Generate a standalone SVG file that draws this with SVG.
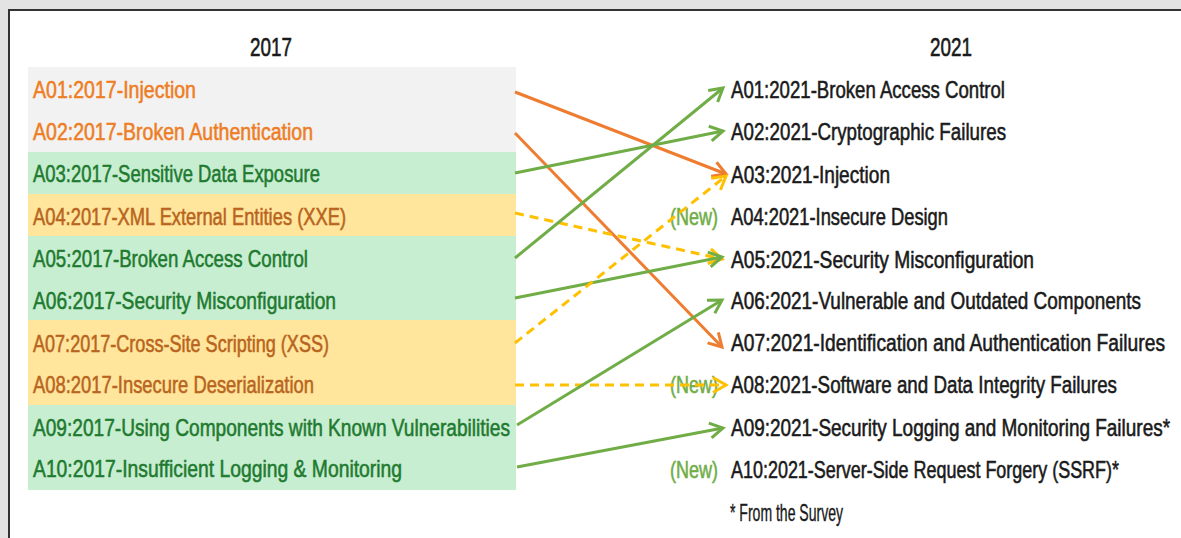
<svg xmlns="http://www.w3.org/2000/svg" width="1181" height="538" viewBox="0 0 1181 538">
<style>
.t{font-family:"Liberation Sans",Arial,sans-serif;font-size:19px;stroke-width:0.45px}
.or{fill:#ee7d24;stroke:#ee7d24}
.gr{fill:#1f7a30;stroke:#1f7a30}
.br{fill:#b9641e;stroke:#b9641e}
.bk{fill:#1a1a1a;stroke:#1a1a1a}
.nw{fill:#70ad47;stroke:#70ad47}
.c{fill:none;stroke-width:3}
.co{stroke:#ee7d31}
.cg{stroke:#70ad47}
.cy{stroke:#ffc000;stroke-dasharray:9 6}
</style>
<defs>
<marker id="mo" viewBox="0 0 20 20" refX="15" refY="10" markerWidth="20" markerHeight="20" markerUnits="userSpaceOnUse" orient="auto" overflow="visible"><path d="M2,2.5 L15,10 L2,17.5" fill="none" stroke="#ee7d31" stroke-width="3"/></marker>
<marker id="mg" viewBox="0 0 20 20" refX="15" refY="10" markerWidth="20" markerHeight="20" markerUnits="userSpaceOnUse" orient="auto" overflow="visible"><path d="M2,2.5 L15,10 L2,17.5" fill="none" stroke="#70ad47" stroke-width="3"/></marker>
<marker id="my" viewBox="0 0 20 20" refX="15" refY="10" markerWidth="20" markerHeight="20" markerUnits="userSpaceOnUse" orient="auto" overflow="visible"><path d="M2,2.5 L15,10 L2,17.5" fill="none" stroke="#ffc000" stroke-width="3"/></marker>
</defs>
<rect x="0" y="0" width="1181" height="538" fill="#e3e3e3"/>
<rect x="9" y="10" width="1200" height="600" fill="#ffffff" stroke="#333333" stroke-width="2"/>
<g id="backgrounds">
<rect x="28" y="67" width="488" height="85" fill="#f2f2f2"/>
<rect x="28" y="152" width="488" height="42" fill="#c8eed2"/>
<rect x="28" y="194" width="488" height="42" fill="#ffe69c"/>
<rect x="28" y="236" width="488" height="84" fill="#c8eed2"/>
<rect x="28" y="320" width="488" height="85" fill="#ffe69c"/>
<rect x="28" y="405" width="488" height="85" fill="#c8eed2"/>
</g>
<g id="headers">
<text class="t bk" transform="translate(250,56) scale(1,1.4)" font-size="20" textLength="42" lengthAdjust="spacingAndGlyphs">2017</text>
<text class="t bk" transform="translate(930,56) scale(1,1.4)" font-size="20" textLength="42" lengthAdjust="spacingAndGlyphs">2021</text>
</g>
<g id="n2017-a01"><text class="t or" transform="translate(33,98) scale(1,1.27)" textLength="163" lengthAdjust="spacingAndGlyphs">A01:2017-Injection</text></g>
<g id="n2017-a02"><text class="t or" transform="translate(33,140) scale(1,1.27)" textLength="280" lengthAdjust="spacingAndGlyphs">A02:2017-Broken Authentication</text></g>
<g id="n2017-a03"><text class="t gr" transform="translate(33,182) scale(1,1.27)" textLength="287" lengthAdjust="spacingAndGlyphs">A03:2017-Sensitive Data Exposure</text></g>
<g id="n2017-a04"><text class="t br" transform="translate(33,225) scale(1,1.27)" textLength="313" lengthAdjust="spacingAndGlyphs">A04:2017-XML External Entities (XXE)</text></g>
<g id="n2017-a05"><text class="t gr" transform="translate(33,267) scale(1,1.27)" textLength="275" lengthAdjust="spacingAndGlyphs">A05:2017-Broken Access Control</text></g>
<g id="n2017-a06"><text class="t gr" transform="translate(33,309) scale(1,1.27)" textLength="303" lengthAdjust="spacingAndGlyphs">A06:2017-Security Misconfiguration</text></g>
<g id="n2017-a07"><text class="t br" transform="translate(33,352) scale(1,1.27)" textLength="296" lengthAdjust="spacingAndGlyphs">A07:2017-Cross-Site Scripting (XSS)</text></g>
<g id="n2017-a08"><text class="t br" transform="translate(33,393) scale(1,1.27)" textLength="281" lengthAdjust="spacingAndGlyphs">A08:2017-Insecure Deserialization</text></g>
<g id="n2017-a09"><text class="t gr" transform="translate(33,436) scale(1,1.27)" textLength="477" lengthAdjust="spacingAndGlyphs">A09:2017-Using Components with Known Vulnerabilities</text></g>
<g id="n2017-a10"><text class="t gr" transform="translate(33,477) scale(1,1.27)" textLength="369" lengthAdjust="spacingAndGlyphs">A10:2017-Insufficient Logging &amp; Monitoring</text></g>
<g id="n2021-a01"><text class="t bk" transform="translate(731,98) scale(1,1.27)" textLength="274" lengthAdjust="spacingAndGlyphs">A01:2021-Broken Access Control</text></g>
<g id="n2021-a02"><text class="t bk" transform="translate(731,140) scale(1,1.27)" textLength="275" lengthAdjust="spacingAndGlyphs">A02:2021-Cryptographic Failures</text></g>
<g id="n2021-a03"><text class="t bk" transform="translate(731,183) scale(1,1.27)" textLength="159" lengthAdjust="spacingAndGlyphs">A03:2021-Injection</text></g>
<g id="n2021-a04"><text class="t nw" transform="translate(670,225) scale(1,1.27)" textLength="48" lengthAdjust="spacingAndGlyphs">(New)</text><text class="t bk" transform="translate(731,225) scale(1,1.27)" textLength="217" lengthAdjust="spacingAndGlyphs">A04:2021-Insecure Design</text></g>
<g id="n2021-a05"><text class="t bk" transform="translate(731,268) scale(1,1.27)" textLength="303" lengthAdjust="spacingAndGlyphs">A05:2021-Security Misconfiguration</text></g>
<g id="n2021-a06"><text class="t bk" transform="translate(731,309) scale(1,1.27)" textLength="410" lengthAdjust="spacingAndGlyphs">A06:2021-Vulnerable and Outdated Components</text></g>
<g id="n2021-a07"><text class="t bk" transform="translate(731,351) scale(1,1.27)" textLength="434" lengthAdjust="spacingAndGlyphs">A07:2021-Identification and Authentication Failures</text></g>
<g id="n2021-a08"><text class="t nw" transform="translate(670,393) scale(1,1.27)" textLength="48" lengthAdjust="spacingAndGlyphs">(New)</text><text class="t bk" transform="translate(731,393) scale(1,1.27)" textLength="386" lengthAdjust="spacingAndGlyphs">A08:2021-Software and Data Integrity Failures</text></g>
<g id="n2021-a09"><text class="t bk" transform="translate(731,436) scale(1,1.27)" textLength="439" lengthAdjust="spacingAndGlyphs">A09:2021-Security Logging and Monitoring Failures*</text></g>
<g id="n2021-a10"><text class="t nw" transform="translate(670,478) scale(1,1.27)" textLength="48" lengthAdjust="spacingAndGlyphs">(New)</text><text class="t bk" transform="translate(731,478) scale(1,1.27)" textLength="388" lengthAdjust="spacingAndGlyphs">A10:2021-Server-Side Request Forgery (SSRF)*</text></g>
<g id="footnote"><text class="t bk" transform="translate(730,521) scale(1,1.27)" font-size="14" style="stroke-width:0.3px" textLength="113" lengthAdjust="spacingAndGlyphs">* From the Survey</text></g>
<g id="connectors">
<line class="c co" x1="515" y1="92" x2="726" y2="174" marker-end="url(#mo)"/>
<line class="c co" x1="515" y1="133" x2="722" y2="347" marker-end="url(#mo)"/>
<line class="c cg" x1="515" y1="173" x2="723" y2="131" marker-end="url(#mg)"/>
<line class="c cy" x1="515" y1="213" x2="722" y2="259" marker-end="url(#my)"/>
<line class="c cg" x1="515" y1="258" x2="723" y2="88" marker-end="url(#mg)"/>
<line class="c cg" x1="515" y1="298" x2="722" y2="257" marker-end="url(#mg)"/>
<line class="c cy" x1="515" y1="343" x2="726" y2="176" marker-end="url(#my)"/>
<line class="c cy" x1="515" y1="385" x2="726" y2="385" marker-end="url(#my)"/>
<line class="c cg" x1="517" y1="425" x2="722" y2="300" marker-end="url(#mg)"/>
<line class="c cg" x1="517" y1="467" x2="723" y2="428" marker-end="url(#mg)"/>
</g>
</svg>
